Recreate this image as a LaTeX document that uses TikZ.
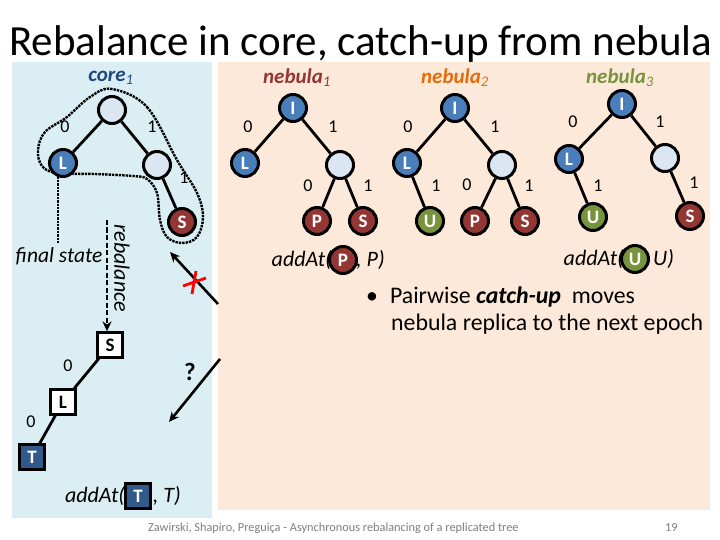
\documentclass[tikz,border=0pt]{standalone}
\usepackage{fontspec}
\setmainfont{Carlito}
\usetikzlibrary{arrows.meta}
\definecolor{panelblue}{HTML}{DAEEF3}
\definecolor{panelpeach}{HTML}{FDE9D9}
\definecolor{lightnode}{HTML}{DCE6F2}
\definecolor{nodeblue}{HTML}{4A7EBB}
\definecolor{nodered}{HTML}{943634}
\definecolor{nodegreen}{HTML}{77933C}
\definecolor{sqblue}{HTML}{31598A}
\definecolor{corecol}{HTML}{1F497D}
\definecolor{neb1col}{HTML}{953735}
\definecolor{neb2col}{HTML}{E46C0A}
\definecolor{neb3col}{HTML}{77933C}
\definecolor{footgray}{HTML}{7F7F7F}
\tikzset{
  tn/.style={circle, draw=black, line width=3pt, minimum size=27pt, inner sep=0pt,
    font=\bfseries\fontsize{19}{19}\selectfont, text=white},
  lightn/.style={tn, fill=lightnode},
  bluen/.style={tn, fill=nodeblue},
  redn/.style={tn, fill=nodered},
  greenn/.style={tn, fill=nodegreen},
  sqn/.style={rectangle, draw=black, line width=2.8pt, minimum size=24.5pt, inner sep=0pt,
    font=\bfseries\fontsize{19}{19}\selectfont, fill=white},
  sqdark/.style={sqn, fill=sqblue, text=white},
  edge/.style={line width=2.8pt},
  elab/.style={font=\fontsize{18}{18}\selectfont, inner sep=0pt},
  title/.style={font=\fontsize{21}{21}\selectfont\bfseries\itshape, inner sep=0pt},
  itxt/.style={font=\fontsize{22}{22}\selectfont\itshape, inner sep=0pt},
  btxt/.style={font=\fontsize{23.8}{23.8}\selectfont, inner sep=0pt},
  arr/.style={line width=2.6pt, -{Stealth[length=10pt,width=9pt]}},
  dotl/.style={line width=2.4pt, densely dotted},
}
\begin{document}
\begin{tikzpicture}[x=1pt,y=-1pt]
\useasboundingbox (0,0) rectangle (720,540);
\fill[white] (0,0) rectangle (720,540);
% panels
\fill[panelblue] (12,62) rectangle (212,518);
\fill[panelpeach] (218,62) rectangle (710,510);
% title
\node[anchor=base west, inner sep=0pt, font=\fontsize{43}{43}\selectfont] (ttl) at (9,56) {Rebalance in core, catch-up from nebula};
% ---- core
\node[title, text=corecol] (corel) at (111,78) {core$_{\mathit{1}}$};
\draw[dotl] plot[smooth cycle, tension=0.6] coordinates {(112,89) (147,107) (177,160) (197,193) (203,217) (197,237) (182,243) (167,237) (160,220) (157,193) (147,179) (133,176) (95,174) (57,173) (42,166) (38,150) (45,132) (67,117) (90,97)};
\coordinate (fsTop) at (58,173);
\coordinate (fsBot) at (58,243);
\draw[dotl] (fsTop) -- (fsBot);
\node[itxt, font=\fontsize{21.5}{21.5}\selectfont\itshape] (fs) at (59,256) {final state};
\node[lightn] (c0) at (112,110) {};
\node[bluen] (cL) at (63,163) {L};
\node[lightn] (c1) at (157,165) {};
\node[redn] (cS) at (182,222) {S};
\draw[edge] (c0) -- (cL);
\draw[edge] (c0) -- (c1);
\draw[edge] (c1) -- (cS);
\node[elab] (cl1) at (65,127) {0};
\node[elab] (cl2) at (152,127) {1};
\node[elab] (cl3) at (184,178) {1};
% rebalance
\node[sqn] (sS) at (110,345) {S};
\node[sqn] (sL) at (63,402) {L};
\node[sqdark] (sT) at (32,457) {T};
\coordinate (rbTop) at (107,220);
\draw[line width=2.6pt, dashed, dash pattern=on 5pt off 2.5pt, -{Stealth[length=10pt,width=9pt]}] (rbTop) -- (sS.north -| rbTop);
\node[itxt, font=\fontsize{22}{22}\selectfont\itshape, rotate=-90] (rb) at (122,268) {rebalance};
\draw[edge] (sS) -- (sL);
\draw[edge] (sL) -- (sT);
\node[elab] (sl1) at (68,366) {0};
\node[elab] (sl2) at (31,422) {0};
% addAt T
\node[sqdark] (tT) at (138,496) {T};
\node[itxt, anchor=east] (tA) at ([xshift=1pt]tT.west) {addAt(};
\node[itxt, anchor=west] (tB) at ([xshift=1pt]tT.east) {, \textit{T})};
% arrows between panels
\coordinate (xa) at (218,304);
\coordinate (xb) at (170,252);
\draw[arr] (xa) -- (xb);
\coordinate (r1) at (183,286);
\coordinate (r2) at (206,278);
\coordinate (r3) at (196,271);
\coordinate (r4) at (192,294);
\draw[red, line width=2.8pt] (r1) -- (r2);
\draw[red, line width=2.8pt] (r3) -- (r4);
\node[font=\bfseries\fontsize{25}{25}\selectfont, inner sep=0pt] (q) at (190,372) {?};
\coordinate (qa) at (220,359);
\coordinate (qb) at (169,422);
\draw[arr] (qa) -- (qb);
% ---- nebula 1
\node[title, text=neb1col] (n1lab) at (297,78) {nebula$_{\mathit{1}}$};
\node[bluen] (aI) at (293,108) {I};
\node[bluen] (aL) at (245,163) {L};
\node[lightn] (aN) at (340,165) {};
\node[redn] (aP) at (317,221) {P};
\node[redn] (aS) at (363,221) {S};
\draw[edge] (aI) -- (aL);
\draw[edge] (aI) -- (aN);
\draw[edge] (aN) -- (aP);
\draw[edge] (aN) -- (aS);
\node[elab] at (248,127) {0};
\node[elab] at (333,127) {1};
\node[elab] at (308,186) {0};
\node[elab] at (368,186) {1};
\node[redn] (pP) at (343,260) {P};
\node[itxt, anchor=east] (pA) at ([xshift=4pt]pP.west) {addAt(};
\node[itxt, anchor=west] (pB) at ([xshift=-2pt]pP.east) {, P)};
% ---- nebula 2
\node[title, text=neb2col] (n2lab) at (455,78) {nebula$_{\mathit{2}}$};
\node[bluen] (bI) at (455,108) {I};
\node[bluen] (bL) at (407,163) {L};
\node[lightn] (bN) at (502,165) {};
\node[greenn] (bU) at (430,221) {U};
\node[redn] (bP) at (475,221) {P};
\node[redn] (bS) at (525,221) {S};
\draw[edge] (bI) -- (bL);
\draw[edge] (bI) -- (bN);
\draw[edge] (bL) -- (bU);
\draw[edge] (bN) -- (bP);
\draw[edge] (bN) -- (bS);
\node[elab] at (408,127) {0};
\node[elab] at (495,127) {1};
\node[elab] at (436,186) {1};
\node[elab] at (467,185) {0};
\node[elab] at (529,186) {1};
% ---- nebula 3
\node[title, text=neb3col] (n3lab) at (620,78) {nebula$_{\mathit{3}}$};
\node[bluen] (dI) at (622,104) {I};
\node[bluen] (dL) at (569,159) {L};
\node[lightn] (dN) at (665,158) {};
\node[greenn] (dU) at (593,217) {U};
\node[redn] (dS) at (690,216) {S};
\draw[edge] (dI) -- (dL);
\draw[edge] (dI) -- (dN);
\draw[edge] (dL) -- (dU);
\draw[edge] (dN) -- (dS);
\node[elab] at (573,122) {0};
\node[elab] at (660,122) {1};
\node[elab] at (598,186) {1};
\node[elab] at (694,183) {1};
\node[greenn] (uU) at (635,259) {U};
\node[itxt, anchor=east] (uA) at ([xshift=4pt]uU.west) {addAt(};
\node[itxt, anchor=west] (uB) at ([xshift=3pt]uU.east) {U)};
% bullet text
\node[btxt, anchor=base west] (bl1) at (366,303) {\textbullet\hspace{12pt}Pairwise \textbf{\textit{catch-up}}\ \ moves};
\node[btxt, anchor=base west] (bl2) at (391,330) {nebula replica to the next epoch};
% footer
\node[anchor=base west, inner sep=0pt, text=footgray, font=\fontsize{12.3}{12.3}\selectfont] (ft) at (148,531) {Zawirski, Shapiro, Preguiça - Asynchronous rebalancing of a replicated tree};
\node[anchor=base west, inner sep=0pt, text=footgray, font=\fontsize{12.3}{12.3}\selectfont] (pg) at (665,531) {19};
\end{tikzpicture}
\end{document}
